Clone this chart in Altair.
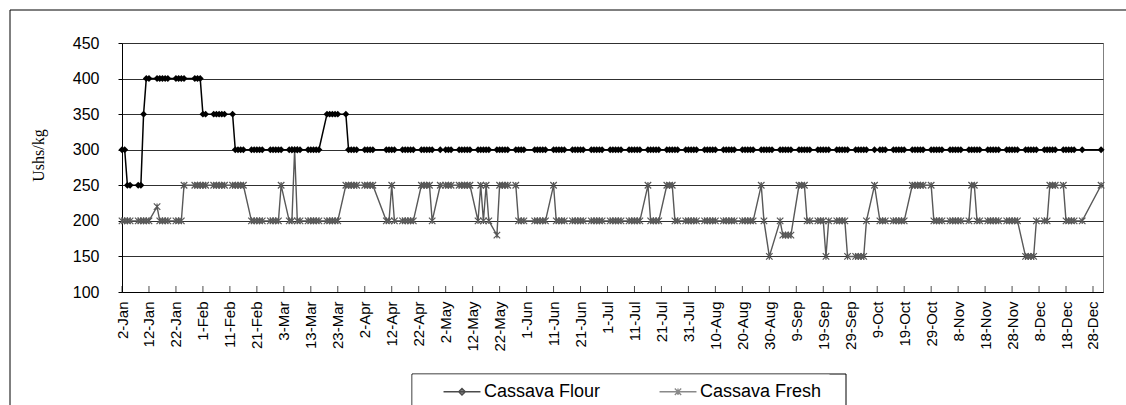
import altair as alt
import pandas as pd

# ---- price runs (Ushs/kg); each run covers the market days from start to end ----
flour_from = ["2007-01-02", "2007-01-04", "2007-01-10", "2007-01-11", "2007-02-01",
              "2007-02-13", "2007-03-19", "2007-03-26", "2007-03-27"]
flour_to = ["2007-01-03", "2007-01-09", "2007-01-10", "2007-01-31", "2007-02-12",
            "2007-03-16", "2007-03-23", "2007-03-26", "2007-12-31"]
flour_price = [300, 250, 350, 400, 350, 300, 350, 350, 300]

fresh_from = ["2007-01-02", "2007-01-15", "2007-01-16", "2007-01-25", "2007-02-19",
              "2007-03-02", "2007-03-05", "2007-03-07", "2007-03-08", "2007-03-26",
              "2007-04-10", "2007-04-12", "2007-04-13", "2007-04-23", "2007-04-27",
              "2007-04-30", "2007-05-14", "2007-05-15", "2007-05-16", "2007-05-17",
              "2007-05-18", "2007-05-21", "2007-05-22", "2007-05-29", "2007-06-11",
              "2007-06-12", "2007-07-16", "2007-07-17", "2007-07-23", "2007-07-26",
              "2007-08-27", "2007-08-28", "2007-08-30", "2007-09-03", "2007-09-04",
              "2007-09-10", "2007-09-13", "2007-09-20", "2007-09-21", "2007-09-28",
              "2007-10-05", "2007-10-08", "2007-10-10", "2007-10-22", "2007-10-30",
              "2007-11-13", "2007-11-15", "2007-12-03", "2007-12-07", "2007-12-12",
              "2007-12-18", "2007-12-31"]
fresh_to = ["2007-01-12", "2007-01-15", "2007-01-24", "2007-02-16", "2007-03-01",
            "2007-03-02", "2007-03-06", "2007-03-07", "2007-03-23", "2007-04-05",
            "2007-04-11", "2007-04-12", "2007-04-20", "2007-04-26", "2007-04-27",
            "2007-05-11", "2007-05-14", "2007-05-15", "2007-05-16", "2007-05-17",
            "2007-05-18", "2007-05-21", "2007-05-28", "2007-06-08", "2007-06-11",
            "2007-07-13", "2007-07-16", "2007-07-20", "2007-07-25", "2007-08-24",
            "2007-08-27", "2007-08-28", "2007-08-30", "2007-09-03", "2007-09-07",
            "2007-09-12", "2007-09-19", "2007-09-20", "2007-09-27", "2007-10-04",
            "2007-10-05", "2007-10-08", "2007-10-19", "2007-10-29", "2007-11-12",
            "2007-11-14", "2007-11-30", "2007-12-06", "2007-12-11", "2007-12-17",
            "2007-12-24", "2007-12-31"]
fresh_price = [200, 220, 200, 250, 200, 250, 200, 300, 200, 250,
               200, 250, 200, 250, 200, 250, 200, 250, 200, 250,
               200, 180, 250, 200, 250, 200, 250, 200, 250, 200,
               250, 200, 150, 200, 180, 250, 200, 150, 200, 150,
               200, 250, 200, 250, 200, 250, 200, 150, 200, 250,
               200, 250]

# days with no market record
no_market_days = ["2007-01-26", "2007-04-06", "2007-04-09", "2007-05-01", "2007-06-01",
                  "2007-10-09", "2007-12-25", "2007-12-26", "2007-12-27", "2007-12-28"]

series_names = ["Cassava Flour", "Cassava Fresh"]
y_ticks = [100, 150, 200, 250, 300, 350, 400, 450]


def expand(starts, ends, prices, name):
    rows = []
    for s, e, p in zip(starts, ends, prices):
        for d in pd.bdate_range(s, e):
            day = d.strftime("%Y-%m-%d")
            if day in no_market_days:
                continue
            rows.append({"date": day, "price": p, "series": name})
    return rows


flour_df = pd.DataFrame(expand(flour_from, flour_to, flour_price, series_names[0]))
fresh_df = pd.DataFrame(expand(fresh_from, fresh_to, fresh_price, series_names[1]))
all_df = pd.concat([flour_df, fresh_df], ignore_index=True)

# axis dates every ten days from 2-Jan; the small ticks sit on the 100 baseline
tick_days = pd.date_range("2007-01-02", "2007-12-28", freq="10D")
tick_df = pd.DataFrame({"date": tick_days.strftime("%Y-%m-%d"), "price": y_ticks[0]})
tick_values = [alt.DateTime(year=d.year, month=d.month, date=d.day, utc=True) for d in tick_days]

FONT = "Liberation Sans"
FRESH_GREY = "#585858"
STAR = "M-1,-1L1,1M-1,1L1,-1M0,-1L0,1"

x_enc = alt.X(
    "date:T",
    scale=alt.Scale(
        type="utc",
        domain=[alt.DateTime(year=2007, month=1, date=2, utc=True),
                alt.DateTime(year=2007, month=12, date=31, hours=17, utc=True)],
    ),
    axis=alt.Axis(
        values=tick_values,
        labelExpr="utcFormat(datum.value, '%-d-%b')",
        labelAngle=270,
        labelAlign="right",
        labelBaseline="middle",
        labelFont=FONT,
        labelFontSize=15,
        labelColor="black",
        labelPadding=9,
        labelOverlap=False,
        labelFlush=False,
        ticks=False,
        tickSize=0,
        grid=False,
        domainColor="black",
        domainWidth=1,
        title=None,
    ),
)

y_enc = alt.Y(
    "price:Q",
    scale=alt.Scale(domain=[100, 450], nice=False, zero=False),
    axis=alt.Axis(
        values=y_ticks,
        tickCount=8,
        grid=True,
        gridColor="#303030",
        gridWidth=1,
        domainColor="black",
        tickColor="black",
        tickSize=4,
        labelFont=FONT,
        labelFontSize=16,
        labelColor="black",
        labelPadding=19,
        labelOverlap=False,
        title="Ushs/kg",
        titleFont="Liberation Serif",
        titleFontSize=16,
        titleFontWeight="normal",
        titleColor="black",
        titleAngle=270,
        titleAlign="center",
        titleBaseline="middle",
        titleX=-84,
        titleY=112,
    ),
)

flour_line = alt.Chart(flour_df).mark_line(color="black", strokeWidth=1.5).encode(x=x_enc, y=y_enc)
flour_pts = alt.Chart(flour_df).mark_point(
    shape="diamond", filled=True, color="black", size=48, opacity=1
).encode(x=x_enc, y=y_enc)

fresh_line = alt.Chart(fresh_df).mark_line(color=FRESH_GREY, strokeWidth=1.4).encode(x=x_enc, y=y_enc)
fresh_pts = alt.Chart(fresh_df).mark_point(
    shape=STAR, filled=False, color=FRESH_GREY, size=42, strokeWidth=1.2, opacity=1
).encode(x=x_enc, y=y_enc)

# small inward tick marks along the date axis
inner_ticks = alt.Chart(tick_df).mark_tick(
    orient="vertical", size=6, thickness=1, color="black", yOffset=-3
).encode(x=x_enc, y=y_enc)

# legend entries: line with its marker
legend_paths = [
    "M-2.2,0L2.2,0M0,-0.4L0.4,0L0,0.4L-0.4,0Z",
    "M-2.2,0L2.2,0M-0.38,-0.38L0.38,0.38M-0.38,0.38L0.38,-0.38M0,-0.38L0,0.38",
]
legend_layer = alt.Chart(all_df).transform_filter("false").mark_point(strokeWidth=1.3).encode(
    x=x_enc,
    y=y_enc,
    shape=alt.Shape(
        "series:N",
        scale=alt.Scale(domain=series_names, range=legend_paths),
        legend=alt.Legend(
            title=None,
            orient="none",
            legendX=290,
            legendY=331,
            direction="horizontal",
            labelFont=FONT,
            labelFontSize=18,
            labelColor="black",
            labelLimit=400,
            symbolSize=282,
            symbolStrokeWidth=1.3,
            symbolOffset=32.5,
            labelOffset=12.4,
            columnPadding=36,
            padding=8,
            strokeColor="transparent",
            fillColor="white",
            cornerRadius=0,
        ),
    ),
    fill=alt.Fill("series:N", scale=alt.Scale(domain=series_names, range=["black", "transparent"])),
    stroke=alt.Stroke("series:N", scale=alt.Scale(domain=series_names, range=["black", FRESH_GREY])),
)

# outer chart frame and the legend's box
frame = alt.Chart(pd.DataFrame({"frame": [0]})).mark_rect(
    fill="transparent", stroke="black", strokeWidth=1
).encode(x=alt.value(-112), y=alt.value(-33), x2=alt.value(1010), y2=alt.value(380))
legend_box = alt.Chart(pd.DataFrame({"box": [0]})).mark_rect(
    fill="white", stroke="black", strokeWidth=1
).encode(x=alt.value(290), y=alt.value(331), x2=alt.value(724), y2=alt.value(380))

chart = alt.layer(
    frame, legend_box, fresh_line, fresh_pts, flour_line, flour_pts, inner_ticks, legend_layer
).properties(
    width=981,
    height=249,
    autosize=alt.AutoSizeParams(type="none"),
    padding={"left": 122, "top": 43, "right": 23, "bottom": 113},
    background="white",
).configure_view(stroke="#808080", strokeWidth=1)

chart.save("out.html", embed_options={"renderer": "svg", "actions": False})
